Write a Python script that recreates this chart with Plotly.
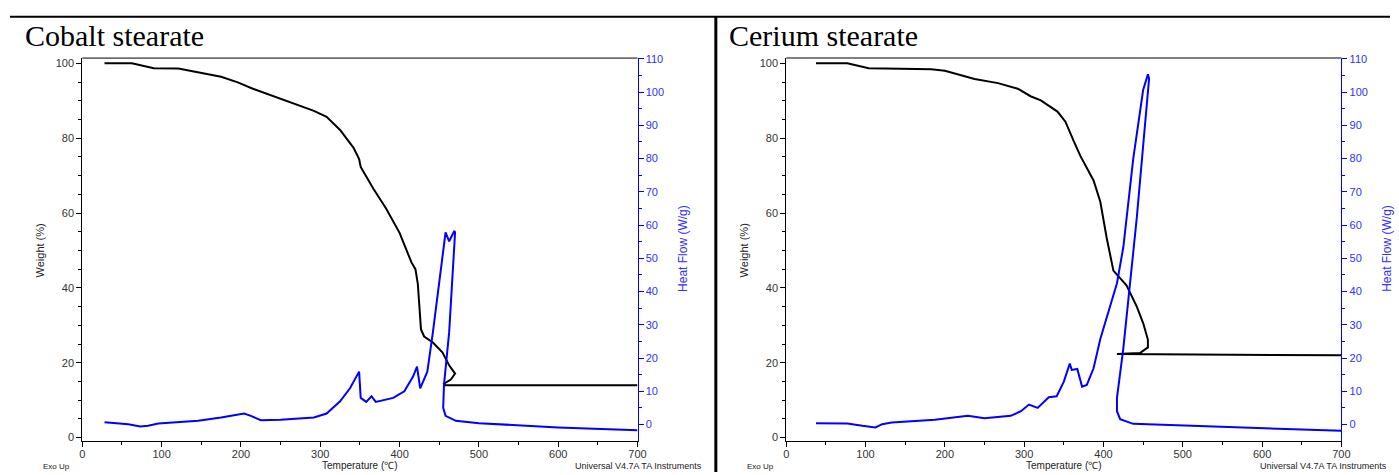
import plotly.graph_objects as go

W, H = 1399, 475

# ---------------- Data ----------------
cobalt_wt_T = [28, 62.5, 90, 121, 175, 196, 215, 250, 292, 308, 325, 342, 349, 351, 367, 383, 400,
               415, 420, 423, 425, 427, 431, 442, 454, 462.5, 470, 464.6, 456, 457.5, 700]
cobalt_wt = [100, 100, 98.7, 98.6, 96.4, 94.9, 93.2, 90.5, 87.3, 85.7, 82.2, 77.4, 74.4, 72.3, 66.5, 61.2, 54.7,
             46.8, 45.0, 41.1, 34.1, 28.9, 27.0, 25.4, 22.8, 19.3, 17.1, 15.5, 14.4, 14.0, 14.0]

cobalt_hf_T = [28, 58, 73, 83, 96, 146, 175, 204, 212.5, 225, 250, 292, 308, 325, 337.5, 346, 349, 351,
               358, 364.6, 370, 392, 406, 417, 422, 426, 435, 442, 450, 458, 462.5, 469, 470,
               462.5, 456, 455, 458, 471, 500, 600, 700]
cobalt_hf = [0.7, 0.1, -0.6, -0.4, 0.3, 1.1, 2.1, 3.3, 2.6, 1.3, 1.4, 2.1, 3.3, 7.0, 10.9, 14.9, 15.9, 8.0,
             6.8, 8.5, 6.8, 8.0, 10.0, 14.4, 17.4, 10.9, 15.9, 27.7, 42.5, 57.8, 55.1, 58.2, 57.8,
             27.7, 11.9, 5.0, 2.6, 1.1, 0.4, -0.9, -1.7]

cerium_wt_T = [37.5, 77, 104, 183, 200, 237.5, 267, 292, 308, 321, 342, 352, 362.5, 371, 387.5, 396, 404,
               412.5, 429, 442, 450, 456, 456, 446, 417, 700]
cerium_wt = [100, 100, 98.7, 98.4, 98.0, 95.8, 94.7, 93.2, 91.2, 90.1, 87.1, 84.4, 79.2, 75.2, 68.7, 63.0, 53.4,
             44.6, 40.7, 35.0, 30.6, 26.2, 24.1, 22.6, 22.3, 22.0]

cerium_hf_T = [37.5, 77, 96, 112.5, 121, 133, 187.5, 229, 250, 283, 296, 306, 317, 325, 331, 341, 350,
               357.5, 360, 367, 369, 373, 379, 387.5, 396, 406, 417, 425, 437.5, 450, 456, 457.5,
               442, 425, 417, 417, 421, 437.5, 500, 600, 700]
cerium_hf = [0.4, 0.3, -0.4, -0.9, 0.1, 0.6, 1.4, 2.6, 1.9, 2.6, 4.0, 6.0, 5.0, 6.7, 8.2, 8.5, 12.9,
             18.3, 16.4, 16.7, 14.9, 11.4, 11.9, 16.9, 25.7, 33.6, 42.5, 53.3, 79.9, 100.6, 105.3, 104.0,
             62.2, 22.8, 8.0, 4.0, 1.6, 0.2, -0.3, -0.9, -1.9]

panel_titles = ["Cobalt stearate", "Cerium stearate"]
x_title = "Temperature (℃)"
y_title = "Weight (%)"
y2_title = "Heat Flow (W/g)"
footer_left = "Exo Up"
footer_right = "Universal V4.7A TA Instruments"

# ---------------- Geometry helpers ----------------
def px(x):
    return x / W

def py(y):
    return 1 - y / H

BLUE = "#0000ff"
LBLUE = "#3030ff"

fig = go.Figure()

fig.add_trace(go.Scatter(x=cobalt_wt_T, y=cobalt_wt, mode="lines", line=dict(color="black", width=2),
                         xaxis="x", yaxis="y", showlegend=False))
fig.add_trace(go.Scatter(x=cobalt_hf_T, y=cobalt_hf, mode="lines", line=dict(color=BLUE, width=2),
                         xaxis="x", yaxis="y2", showlegend=False))
fig.add_trace(go.Scatter(x=cerium_wt_T, y=cerium_wt, mode="lines", line=dict(color="black", width=2),
                         xaxis="x2", yaxis="y3", showlegend=False))
fig.add_trace(go.Scatter(x=cerium_hf_T, y=cerium_hf, mode="lines", line=dict(color=BLUE, width=2),
                         xaxis="x2", yaxis="y4", showlegend=False))

ydom = [py(443), py(54)]
tickfont = dict(family="Liberation Sans, Arial", size=11, color="#333333")
bluefont = dict(family="Liberation Sans, Arial", size=11, color=LBLUE)

def xaxis(dom, anchor):
    return dict(domain=dom, anchor=anchor, range=[0, 700], tick0=0, dtick=100,
                showline=True, linecolor="black", linewidth=1, ticks="outside", ticklen=5,
                tickcolor="black", tickfont=tickfont, showgrid=False, zeroline=False,
                ticklabelstandoff=-2,
                minor=dict(dtick=50, ticks="outside", ticklen=3, tickcolor="black", showgrid=False))

def yleft(anchor):
    return dict(domain=ydom, anchor=anchor, range=[-0.79, 101.39], tick0=0, dtick=20,
                showline=True, linecolor="black", linewidth=1, ticks="outside", ticklen=5,
                tickcolor="black", tickfont=tickfont, showgrid=False, zeroline=False,
                minor=dict(dtick=5, ticks="outside", ticklen=3, tickcolor="black", showgrid=False))

def yright(anchor, over):
    return dict(anchor=anchor, overlaying=over, side="right", range=[-4.82, 110.2], tick0=0, dtick=10,
                showline=True, linecolor=BLUE, linewidth=1, ticks="outside", ticklen=5,
                tickcolor=BLUE, tickfont=bluefont, showgrid=False, zeroline=False,
                minor=dict(dtick=5, ticks="outside", ticklen=3, tickcolor=BLUE, showgrid=False))

fig.update_layout(
    width=W, height=H, margin=dict(l=0, r=0, t=0, b=0),
    paper_bgcolor="white", plot_bgcolor="white",
    xaxis=xaxis([px(80), px(640)], "y"),
    yaxis=yleft("x"),
    yaxis2=yright("x", "y"),
    xaxis2=xaxis([px(790), px(1350)], "y3"),
    yaxis3=yleft("x2"),
    yaxis4=yright("x2", "y3"),
)

shapes = [
    dict(type="line", xref="paper", yref="paper", x0=px(7), x1=1, y0=py(12), y1=py(12),
         line=dict(color="black", width=2)),
    dict(type="line", xref="paper", yref="paper", x0=px(719), x1=px(719), y0=0, y1=py(12),
         line=dict(color="black", width=3)),
    dict(type="line", xref="paper", yref="paper", x0=px(80), x1=px(640), y0=py(54), y1=py(54),
         line=dict(color="black", width=1)),
    dict(type="line", xref="paper", yref="paper", x0=px(790), x1=px(1350), y0=py(54), y1=py(54),
         line=dict(color="#808080", width=2)),
]
fig.update_layout(shapes=shapes)

ann = []
for i, (off, title) in enumerate(zip([0, 710], panel_titles)):
    ann.append(dict(text=title, x=px(20 + off), y=py(31), xref="paper", yref="paper",
                    xanchor="left", yanchor="middle", showarrow=False,
                    font=dict(family="Liberation Serif, Times New Roman", size=30, color="black")))
    ann.append(dict(text=y_title, x=px(37 + off), y=py(250), xref="paper", yref="paper",
                    xanchor="center", yanchor="middle", textangle=-90, showarrow=False,
                    font=dict(family="Liberation Sans, Arial", size=11, color="#222222")))
    ann.append(dict(text=y2_title, x=px(686 + off), y=py(248), xref="paper", yref="paper",
                    xanchor="center", yanchor="middle", textangle=-90, showarrow=False,
                    font=dict(family="Liberation Sans, Arial", size=12, color=LBLUE)))
    ann.append(dict(text=x_title, x=px(360 + off), y=0, xref="paper", yref="paper",
                    xanchor="center", yanchor="bottom", showarrow=False, borderpad=0,
                    font=dict(family="Liberation Sans, Arial", size=10, color="#222222")))
    ann.append(dict(text=footer_left, x=px(38 + off), y=py(469), xref="paper", yref="paper",
                    xanchor="left", yanchor="middle", showarrow=False,
                    font=dict(family="Liberation Sans, Arial", size=8, color="#222222")))
    if i == 0:
        ann.append(dict(text=footer_right, x=px(575), y=py(469), xref="paper", yref="paper",
                        xanchor="left", yanchor="middle", showarrow=False,
                        font=dict(family="Liberation Sans, Arial", size=9, color="#222222")))
    else:
        ann.append(dict(text=footer_right, x=px(1398), y=py(469), xref="paper", yref="paper",
                        xanchor="right", yanchor="middle", showarrow=False,
                        font=dict(family="Liberation Sans, Arial", size=9, color="#222222")))
fig.update_layout(annotations=ann)

fig.write_html("out.html", config={"displayModeBar": False},
               post_script="document.body.style.margin='0';document.body.style.overflow='hidden';")
